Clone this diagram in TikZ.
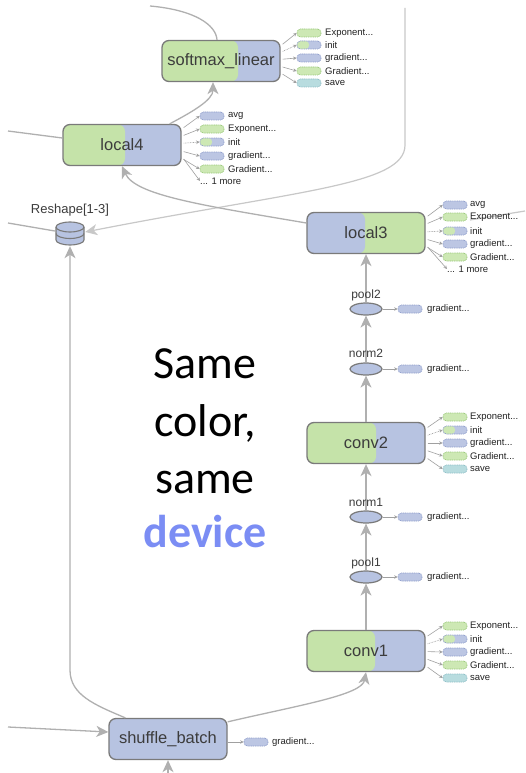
\documentclass[tikz,border=0pt]{standalone}
\usepackage{fontspec}
\setmainfont{Liberation Sans}
\newfontfamily\calib{Carlito}
\usetikzlibrary{arrows.meta,shapes.geometric,calc}
\newcommand\mydots{...}
\definecolor{gfill}{HTML}{C5E3A9}
\definecolor{bfill}{HTML}{B7C3E1}
\definecolor{bord}{HTML}{7A7A7A}
\definecolor{edgec}{HTML}{B0B0B0}
\definecolor{edgelt}{HTML}{C8C8C8}
\definecolor{fanc}{HTML}{A0A0A0}
\definecolor{pgreen}{HTML}{CDE8B4}
\definecolor{pgreenb}{HTML}{98C878}
\definecolor{pblue}{HTML}{BCC6E3}
\definecolor{pblueb}{HTML}{8E9DCB}
\definecolor{pteal}{HTML}{B8DCDF}
\definecolor{ptealb}{HTML}{8CBDC6}
\definecolor{txt}{HTML}{3C3C3C}
\definecolor{ptxt}{HTML}{222222}
\definecolor{devc}{HTML}{7B8DF4}
\tikzset{
 box/.style={draw=bord, line width=1.3pt, rounded corners=7pt, minimum width=118pt, minimum height=41pt, inner sep=0pt, text=txt, font=\fontsize{16.5}{16.5}\selectfont},
 twocol/.style n args={3}{fill=#2, path picture={\fill[#1] (path picture bounding box.north west) rectangle ([xshift=#3pt]path picture bounding box.south west);}},
 ellnode/.style={ellipse, draw=bord, line width=1.2pt, fill=bfill, minimum width=32pt, minimum height=12pt, inner sep=0pt},
 elabel/.style={inner sep=0pt, font=\fontsize{12}{12}\selectfont, text=txt},
 bigtip/.style={-{Stealth[length=12pt,width=11pt,inset=3.5pt]}},
 edgeA/.style={draw=edgec, line width=1.3pt, bigtip},
 edgeL/.style={draw=edgec, line width=1.3pt},
 edgeLight/.style={draw=edgelt, line width=1.2pt},
 fan/.style={draw=fanc, line width=0.6pt, -{Stealth[length=3.5pt,width=3.5pt]}},
 fandot/.style={fan, dash pattern=on 0.8pt off 0.8pt},
 pillbase/.style={rounded corners=3.5pt, minimum width=24pt, minimum height=8pt, inner sep=0pt, line width=0.7pt, dash pattern=on 1pt off 0.8pt},
 pillg/.style={pillbase, fill=pgreen, draw=pgreenb},
 pillb/.style={pillbase, fill=pblue, draw=pblueb},
 pills/.style={pillbase, fill=pteal, draw=ptealb},
 pilli/.style={pillbase, fill=pblue, draw=pblueb, path picture={\fill[pgreen] (path picture bounding box.north west) rectangle (path picture bounding box.south);}},
 plabel/.style={anchor=west, inner sep=0pt, font=\fontsize{9.5}{9.5}\selectfont, text=ptxt},
 bigt/.style={anchor=base, inner sep=0pt, font=\calib\fontsize{46}{46}\selectfont, text=black},
}
\begin{document}
\begin{tikzpicture}[x=1pt,y=-1pt]
\useasboundingbox (0,0) rectangle (525,773);
\fill[white] (0,0) rectangle (525,773);

% free ends
\coordinate (topR) at (405,8);
\coordinate (knee) at (405,145);
\coordinate (topL) at (150,6);
\coordinate (inL4) at (8,131);
\coordinate (inR) at (8,223);
\coordinate (inL) at (8,727);
\coordinate (inB) at (168,773);
\coordinate (l3x) at (470,220);
\coordinate (rEdge) at (525,211);

% main boxes
\node[box, twocol={gfill}{bfill}{76}] (softmax) at (221,61) {softmax\_linear};
\node[box, twocol={gfill}{bfill}{62}] (local4) at (122,145) {local4};
\node[box, twocol={bfill}{gfill}{58}] (local3) at (366,233) {local3};
\node[box, twocol={gfill}{bfill}{69}] (conv2) at (366,443) {conv2};
\node[box, twocol={gfill}{bfill}{68}] (conv1) at (366,651) {conv1};
\node[box, fill=bfill] (shuffle) at (168,739) {shuffle\_batch};

% ellipses
\node[ellnode] (pool2) at (366,309) {};
\node[ellnode] (norm2) at (366,369) {};
\node[ellnode] (norm1) at (366,517) {};
\node[ellnode] (pool1) at (366,577) {};

% reshape
\node[minimum width=30pt, minimum height=24pt, inner sep=0pt] (reshape) at (70,234) {};

% edges
\draw[edgeLight, bigtip] (topR) -- (knee) .. controls (405,185) and (300,190) .. ([yshift=2pt]reshape.east);
\draw[edgeL] ([xshift=-4pt]softmax.north) .. controls (216,25) and (195,10) .. (topL);
\draw[edgeA] ([xshift=-12pt]local4.north east) .. controls (192,112) and (213,100) .. ([xshift=-8pt]softmax.south);
\draw[edgeA] ([yshift=10pt]local3.west) .. controls (200,205) and (135,195) .. (local4.south);
\draw[edgeL] (inL4) -- ([yshift=7pt]local4.west);
\draw[edgeL] (inR) -- ([yshift=3pt]reshape.west);
\draw[edgeA] ([xshift=17pt]shuffle.north west) .. controls (95,705) and (70,695) .. (70,670) -- (reshape.south);
\draw[edgeA] ([yshift=-4pt]shuffle.north east) .. controls (300,705) and (362,695) .. (conv1.south);
\draw[edgeA] (inL) -- ([yshift=7pt]shuffle.west);
\draw[edgeA] (inB) -- (shuffle.south);
\draw[edgeA] (conv1) -- (pool1);
\draw[edgeA] (pool1) -- (norm1);
\draw[edgeA] (norm1) -- (conv2);
\draw[edgeA] (conv2) -- (norm2);
\draw[edgeA] (norm2) -- (pool2);
\draw[edgeA] (pool2) -- (local3);
\draw[edgeLight] (l3x) -- (rEdge);

% reshape icon
\filldraw[fill=bfill, draw=bord, line width=1.1pt] (56,227) -- (56,240) arc[start angle=180,end angle=0,x radius=14,y radius=5] -- (84,227) arc[start angle=0,end angle=-180,x radius=14,y radius=5] -- cycle;
\draw[bord, line width=1.1pt] (56,227) arc[start angle=180,end angle=0,x radius=14,y radius=5];
\draw[bord, line width=1.1pt] (56,233.5) arc[start angle=180,end angle=0,x radius=14,y radius=5];
\node[elabel, font=\fontsize{13}{13}\selectfont] (reshapelab) at (70,210) {Reshape[1-3]};

% ellipse labels
\node[elabel] (pool2lab) at (366,295) {pool2};
\node[elabel] (norm2lab) at (366,353) {norm2};
\node[elabel] (norm1lab) at (366,502) {norm1};
\node[elabel] (pool1lab) at (366,563) {pool1};

% side pills: softmax
\foreach \yy/\ty/\lab/\st [count=\i] in {33/g/Exponent\mydots/fan,45/i/init/fandot,58/b/gradient\mydots/fan,71/g/Gradient\mydots/fan,83/s/save/fan}{
 \node[pill\ty] (smp\i) at (309,\yy) {};
 \node[plabel] (sml\i) at (325,\yy) {\lab};
 \draw[\st] ($(softmax.east)+(2,{(\yy-61)*0.6})$) -- (smp\i.west);
}
% local4
\foreach \yy/\ty/\lab/\st [count=\i] in {116/b/avg/fan,129/g/Exponent\mydots/fan,142/i/init/fandot,156/b/gradient\mydots/fan,169/g/Gradient\mydots/fan}{
 \node[pill\ty] (l4p\i) at (212,\yy) {};
 \node[plabel] (l4l\i) at (228,\yy) {\lab};
 \draw[\st] ($(local4.east)+(2,{(\yy-145)*0.6})$) -- (l4p\i.west);
}
\node[plabel] (l4more) at (200,181) {\mydots{} 1 more};
\draw[fan] ($(local4.east)+(2,14)$) -- (l4more.west);
% local3
\foreach \yy/\ty/\lab/\st [count=\i] in {205/b/avg/fan,217/g/Exponent\mydots/fan,231/i/init/fandot,244/b/gradient\mydots/fan,257/g/Gradient\mydots/fan}{
 \node[pill\ty] (l3p\i) at (455,\yy) {};
 \node[plabel] (l3l\i) at (470,\yy) {\lab};
 \draw[\st] ($(local3.east)+(2,{(\yy-233)*0.6})$) -- (l3p\i.west);
}
\node[plabel] (l3more) at (447,269) {\mydots{} 1 more};
\draw[fan] ($(local3.east)+(2,14)$) -- (l3more.west);
% conv2
\foreach \yy/\ty/\lab/\st [count=\i] in {417/g/Exponent\mydots/fan,430/i/init/fandot,443/b/gradient\mydots/fan,456/g/Gradient\mydots/fan,469/s/save/fan}{
 \node[pill\ty] (c2p\i) at (455,\yy) {};
 \node[plabel] (c2l\i) at (470,\yy) {\lab};
 \draw[\st] ($(conv2.east)+(2,{(\yy-443)*0.6})$) -- (c2p\i.west);
}
% conv1
\foreach \yy/\ty/\lab/\st [count=\i] in {626/g/Exponent\mydots/fan,639/i/init/fandot,652/b/gradient\mydots/fan,665/g/Gradient\mydots/fan,678/s/save/fan}{
 \node[pill\ty] (c1p\i) at (455,\yy) {};
 \node[plabel] (c1l\i) at (470,\yy) {\lab};
 \draw[\st] ($(conv1.east)+(2,{(\yy-651)*0.6})$) -- (c1p\i.west);
}
% ellipse pills
\foreach \nm/\yy in {pool2/309,norm2/369,norm1/517,pool1/577}{
 \node[pillb] (\nm p) at (410,\yy) {};
 \node[plabel] (\nm g) at (427,\yy) {gradient\mydots};
 \draw[fan] (\nm) -- (\nm p.west);
}
% shuffle pill
\node[pillb] (shp) at (256,742) {};
\node[plabel] (shl) at (272,742) {gradient\mydots};
\draw[fan] (shuffle.east |- shp) -- (shp.west);

% big text
\node[bigt] (t1) at (205,378) {Same};
\node[bigt] (t2) at (205,436) {color,};
\node[bigt] (t3) at (205,493) {same};
\node[bigt, font=\calib\bfseries\fontsize{46}{46}\selectfont, text=devc] (t4) at (205,547) {device};
\end{tikzpicture}
\end{document}
